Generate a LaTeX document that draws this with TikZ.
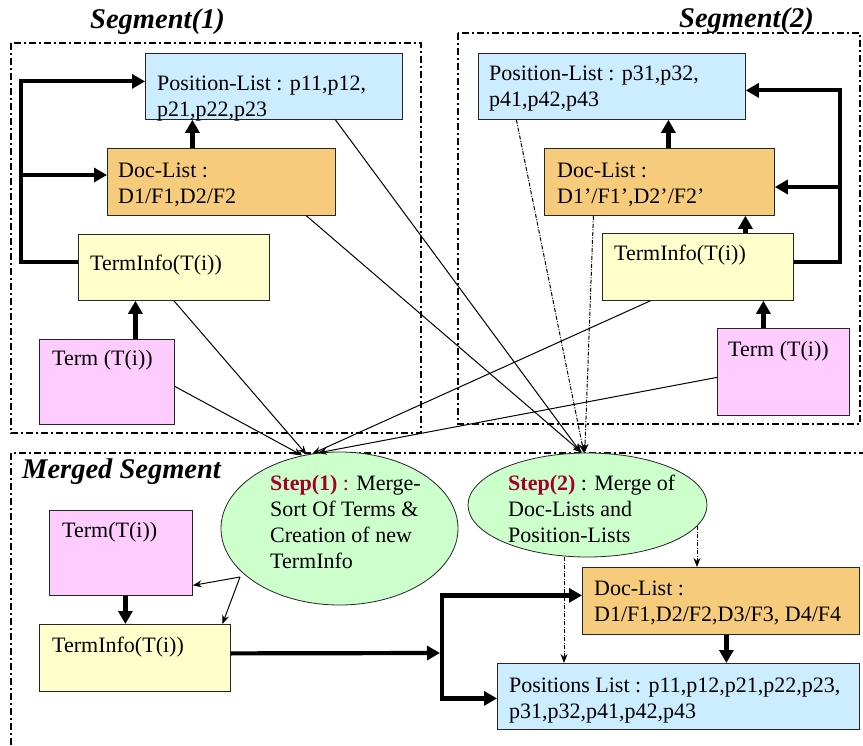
\documentclass[tikz,border=0pt]{standalone}
\usepackage{fontspec}
\setmainfont{Liberation Serif}
\usetikzlibrary{arrows.meta,shapes.geometric,calc}
\definecolor{cblue}{HTML}{CCECFF}
\definecolor{corange}{HTML}{F6CB7C}
\definecolor{cyellow}{HTML}{FFFFCC}
\definecolor{cpink}{HTML}{FFCCFF}
\definecolor{cgreen}{HTML}{CCFFCC}
\definecolor{stepred}{HTML}{A0002A}
\newcommand{\bodyfont}{\fontsize{22}{26}\selectfont}
\newcommand{\titlefont}{\fontsize{28.5}{32}\selectfont\bfseries\itshape}
\begin{document}
\begin{tikzpicture}[x=1pt,y=-1pt,
  segbox/.style={line width=1.7pt, dash pattern=on 7pt off 3pt on 2pt off 3pt},
  bx/.style={draw=black!85, line width=0.8pt, anchor=north west, inner sep=0pt},
  el/.style={ellipse, draw=black!85, line width=0.8pt, fill=cgreen, inner sep=0pt},
  txt/.style={anchor=north west, inner sep=0pt, align=left, font=\bodyfont},
  ttl/.style={inner sep=0pt, font=\titlefont},
  thk/.style={line width=4.2pt, -{Triangle[length=13pt,width=14pt]}},
  thn/.style={line width=1pt, -{Stealth[length=9pt,width=7pt]}},
  ddot/.style={thn, dash pattern=on 4pt off 1.5pt on 1pt off 1.5pt},
]
\useasboundingbox (0,0) rectangle (863,746);
\clip (0,0) rectangle (863,746);
\fill[white] (0,0) rectangle (863,746);

% frames
\draw[segbox] (11,43) rectangle (421,433);
\draw[segbox] (458,33) rectangle (860,424);
\draw[segbox] (11,760) |- (880,453);

% titles
\node[ttl, anchor=base] (ttl1) at (157.5,29) {Segment(1)};
\node[ttl, anchor=base] (ttl2) at (746.5,28) {Segment(2)};
\node[ttl, anchor=base west] (ttl3) at (22,478) {Merged Segment};

% boxes
\node[bx, fill=cblue, minimum width=257pt, minimum height=66pt] (pl1) at (145,53) {};
\node[bx, fill=corange, minimum width=228pt, minimum height=67pt] (dl1) at (107,148) {};
\node[bx, fill=cyellow, minimum width=191pt, minimum height=66pt] (ti1) at (78,234) {};
\node[bx, fill=cpink, minimum width=135pt, minimum height=85pt] (tm1) at (39,339) {};

\node[bx, fill=cblue, minimum width=267pt, minimum height=66pt] (pl2) at (478,53) {};
\node[bx, fill=corange, minimum width=230pt, minimum height=67pt] (dl2) at (544,148) {};
\node[bx, fill=cyellow, minimum width=191pt, minimum height=67pt] (ti2) at (602,233) {};
\node[bx, fill=cpink, minimum width=132pt, minimum height=87pt] (tm2) at (717,328) {};

\node[bx, fill=cpink, minimum width=143pt, minimum height=85pt] (tm3) at (49,510) {};
\node[bx, fill=cyellow, minimum width=191pt, minimum height=67pt] (ti3) at (39,624) {};
\node[bx, fill=corange, minimum width=277pt, minimum height=67pt] (dl3) at (582,567) {};
\node[bx, fill=cblue, minimum width=362pt, minimum height=66pt] (pl3) at (497,663) {};

\node[el, minimum width=237pt, minimum height=153pt] (st1) at (339.5,528.5) {};
\node[el, minimum width=239pt, minimum height=104pt] (st2) at (587.5,505) {};

% thick arrows, segment 1
\coordinate (j1) at (21,175);
\draw[thk] ([yshift=5pt]ti1.west) -| (j1) |- ([yshift=5pt]pl1.west);
\draw[thk] (j1) -- (j1 -| dl1.west);
\draw[thk] ([xshift=-29pt]dl1.north) -- ([xshift=-29pt]dl1.north |- pl1.south);
\draw[thk] ([xshift=28.5pt]tm1.north) -- ([xshift=28.5pt]tm1.north |- ti1.south);

% thick arrows, segment 2
\coordinate (j2) at (840,187);
\draw[thk] ([yshift=5pt]ti2.east) -| (j2) |- ([yshift=-4pt]pl2.east);
\draw[thk] (j2) -- (j2 -| dl2.east);
\draw[thk] ([xshift=9pt]dl2.north) -- ([xshift=9pt]dl2.north |- pl2.south);
\draw[thk] ([xshift=47.5pt]ti2.north) -- ([xshift=47.5pt]ti2.north |- dl2.south);
\draw[thk] ([xshift=-20pt]tm2.north) -- ([xshift=-20pt]tm2.north |- ti2.south);

% thick arrows, merged
\draw[thk] ([xshift=4.5pt]tm3.south) -- ([xshift=4.5pt]tm3.south |- ti3.north);
\coordinate (j3) at (442,653);
\coordinate (j3a) at (440,653);
\draw[thk] ([yshift=4.5pt]ti3.east) -- (j3a);
\draw[thk] (j3) |- ([yshift=5.5pt]dl3.west);
\draw[thk] (j3) |- ([yshift=-2pt]pl3.west);
\draw[thk] ([xshift=5.5pt]dl3.south) -- ([xshift=5.5pt]dl3.south |- pl3.north);

% thin arrows
\coordinate (fk) at (240,577);
\draw[thn] (fk) -- ([yshift=-32.5pt]tm3.east);
\draw[thn] (fk) -- ([xshift=87.5pt]ti3.north);
\draw[ddot] ([xshift=-23.5pt]st2.south) -- ([xshift=-23.5pt]st2.south |- pl3.north);
\coordinate (s2r) at ($(st2.center)+(109.5,21)$);
\draw[ddot] (s2r) -- (s2r |- dl3.north);

\draw[thn] ([yshift=-4.5pt]tm1.east) -- (st1.117);
\draw[thn] (ti1.south) -- (st1.114);
\draw[thn] ([xshift=-47.5pt]ti2.south) -- (st1.110);
\draw[thn] ([yshift=-5.5pt]tm2.west) -- (st1.106);
\draw[thn] ([xshift=61.5pt]pl1.south) -- (st2.97);
\draw[thn] ([xshift=85pt]dl1.south) -- (st2.96);
\draw[ddot] ([xshift=-95.5pt]pl2.south) -- (st2.94);
\draw[ddot] ([xshift=-66pt]dl2.south) -- (st2.93);

% texts
\node[txt] (pl1t) at (157,71.8) {\strut Position-List : p11,p12,\\\strut p21,p22,p23};
\node[txt] (dl1t) at (118,158.8) {\strut Doc-List :\\\strut D1/F1,D2/F2};
\node[txt] (ti1t) at (90,251.8) {\strut TermInfo(T(i))};
\node[txt] (tm1t) at (52,346.8) {\strut Term (T(i))};
\node[txt] (pl2t) at (489,61.8) {\strut Position-List : p31,p32,\\\strut p41,p42,p43};
\node[txt] (dl2t) at (557,158.8) {\strut Doc-List :\\\strut D1’/F1’,D2’/F2’};
\node[txt] (ti2t) at (614,241.8) {\strut TermInfo(T(i))};
\node[txt] (tm2t) at (728,337.8) {\strut Term (T(i))};
\node[txt] (tm3t) at (62,518.8) {\strut Term(T(i))};
\node[txt] (ti3t) at (52,633.8) {\strut TermInfo(T(i))};
\node[txt] (st1t) at (270,471.8) {\strut\textcolor{stepred}{\textbf{Step(1)} :} Merge-\\\strut Sort Of Terms \&\\\strut Creation of new\\\strut TermInfo};
\node[txt] (st2t) at (508,471.8) {\strut\textcolor{stepred}{\textbf{Step(2)}} : Merge of\\\strut Doc-Lists and\\\strut Position-Lists};
\node[txt] (dl3t) at (594,576.8) {\strut Doc-List :\\\strut D1/F1,D2/F2,D3/F3, D4/F4};
\node[txt] (pl3t) at (509,673.8) {\strut Positions List : p11,p12,p21,p22,p23,\\\strut p31,p32,p41,p42,p43};
\end{tikzpicture}
\end{document}
